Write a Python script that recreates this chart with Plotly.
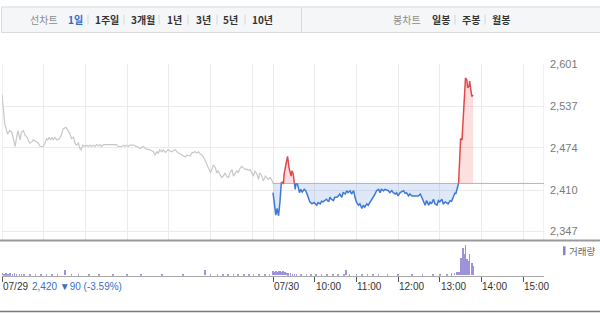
import plotly.graph_objects as go

W, H = 600, 313
BASE = 2420  # previous close (07/29)

# ---- 07/29 price (minutes after 09:00) ----
t29 = [0, 2, 4, 8, 11, 14, 16, 19, 21, 23,
       26, 28, 31, 33, 36, 38, 40, 43, 45, 50,
       52, 55, 59, 62, 64, 66, 68, 70, 72, 74,
       76, 79, 83, 86, 88, 92, 95, 98, 100, 103,
       105, 107, 110, 112, 114, 116, 119, 122, 124, 127,
       129, 131, 134, 136, 139, 141, 143, 146, 150, 155,
       160, 165, 167, 172, 175, 177, 179, 182, 184, 189,
       194, 199, 203, 208, 213, 218, 220, 223, 225, 227,
       230, 232, 235, 239, 244, 249, 254, 259, 264, 266,
       271, 273, 278, 280, 283, 285, 288, 292, 295, 297,
       300, 302, 304, 307, 309, 311, 314, 316, 319, 321,
       323, 326, 328, 331, 333, 335, 338, 340, 342, 345,
       347, 350, 352, 354, 357, 359, 362, 364, 367, 369,
       371, 374, 376, 379, 381, 383, 386, 388, 390]
p29 = [2555, 2530, 2510, 2495, 2500, 2498, 2488, 2476, 2490, 2500,
       2486, 2498, 2500, 2493, 2490, 2486, 2481, 2483, 2486, 2483,
       2481, 2476, 2476, 2481, 2488, 2486, 2490, 2486, 2490, 2486,
       2490, 2486, 2488, 2495, 2503, 2505, 2500, 2495, 2488, 2490,
       2481, 2478, 2481, 2473, 2471, 2478, 2476, 2478, 2476, 2478,
       2476, 2478, 2476, 2479, 2477, 2479, 2476, 2479, 2479, 2479,
       2479, 2479, 2476, 2476, 2478, 2476, 2478, 2476, 2478, 2478,
       2476, 2473, 2476, 2472, 2471, 2468, 2463, 2468, 2466, 2471,
       2468, 2471, 2467, 2471, 2468, 2471, 2466, 2463, 2460, 2463,
       2462, 2466, 2468, 2466, 2468, 2465, 2463, 2456, 2448, 2444,
       2436, 2441, 2448, 2444, 2436, 2439, 2434, 2429, 2432, 2436,
       2431, 2429, 2436, 2441, 2431, 2434, 2439, 2436, 2442, 2446,
       2444, 2441, 2442, 2440, 2441, 2436, 2431, 2439, 2434, 2426,
       2436, 2431, 2424, 2431, 2429, 2426, 2429, 2426, 2420]

# ---- 07/30 price (minutes after 09:00) ----
t30 = [0, 2, 4, 6, 8, 10, 12, 14, 15, 16,
       19, 21, 23, 24, 26, 27, 29, 30, 32, 33,
       35, 36, 38, 40, 42, 45, 47, 49, 51, 53,
       56, 59, 63, 65, 68, 70, 72, 75, 77, 80,
       82, 84, 87, 89, 92, 94, 96, 99, 101, 104,
       106, 108, 111, 113, 116, 118, 120, 123, 125, 128,
       130, 132, 135, 137, 140, 142, 144, 147, 149, 152,
       154, 156, 159, 161, 166, 168, 171, 173, 176, 178,
       180, 183, 188, 190, 192, 195, 197, 200, 204, 209,
       212, 214, 216, 219, 221, 224, 226, 228, 231, 233,
       236, 238, 240, 243, 245, 248, 252, 255, 257, 259,
       262, 263, 265, 267, 269, 270, 272, 274, 275, 277,
       279, 280, 282, 283, 285, 286, 288]
p30 = [2406, 2389, 2372, 2382, 2371, 2392, 2421, 2422, 2419, 2434,
       2451, 2461, 2444, 2439, 2431, 2439, 2435, 2426, 2411, 2419,
       2419, 2416, 2406, 2411, 2407, 2411, 2409, 2404, 2399, 2392,
       2389, 2391, 2387, 2391, 2389, 2393, 2392, 2394, 2396, 2392,
       2399, 2396, 2394, 2399, 2399, 2401, 2404, 2399, 2406, 2404,
       2409, 2406, 2409, 2404, 2409, 2399, 2392, 2387, 2389, 2382,
       2387, 2384, 2389, 2387, 2392, 2394, 2399, 2404, 2409, 2411,
       2406, 2411, 2409, 2411, 2409, 2406, 2409, 2406, 2404, 2406,
       2401, 2406, 2409, 2405, 2406, 2401, 2404, 2401, 2401, 2401,
       2404, 2399, 2393, 2387, 2394, 2387, 2392, 2389, 2396, 2389,
       2387, 2394, 2392, 2396, 2389, 2392, 2389, 2394, 2393, 2399,
       2406, 2404, 2411, 2419, 2456, 2488, 2486, 2525, 2560, 2580,
       2577, 2565, 2567, 2575, 2560, 2552, 2554]

# ---- volume (minutes from 07/29 09:00, 07/30 starts at 390) ----
vol_t = [0, 3, 6, 9, 12, 15, 18, 21, 25, 28, 32, 40, 48, 56, 64, 72, 80, 91, 100, 110,
         125, 140, 160, 180, 200, 230, 260, 292, 300, 310, 318, 325, 333, 340, 348, 355,
         362, 370, 378, 385,
         390, 392, 394, 396, 398, 400, 402, 404, 406, 408, 410, 412, 415, 418, 421, 424,
         430, 438, 445, 452, 460, 468, 476, 484, 492, 495, 500, 510, 518, 526, 534, 542,
         555, 570, 590, 605, 620, 630, 640, 647, 651, 655, 658, 661, 663, 665, 667, 669,
         671, 673, 676, 678]
vol_v = [5, 3, 4, 3, 4, 3, 4, 2, 3, 2, 2, 2, 2, 1, 2, 1, 2, 10, 1, 2,
         1, 1, 1, 1, 1, 1, 1, 10, 2, 2, 3, 2, 2, 2, 3, 2,
         2, 3, 2, 3,
         9, 7, 8, 6, 9, 8, 6, 8, 6, 7, 5, 4, 4, 3, 3, 3,
         2, 2, 2, 2, 2, 2, 2, 2, 2, 11, 2, 2, 2, 2, 2, 2,
         1, 1, 1, 1, 2, 2, 2, 4, 5, 6, 6, 36, 56, 44, 62, 34,
         30, 44, 26, 20]

y_ticks = [2347, 2410, 2474, 2537, 2601]
y_text = ["2,347", "2,410", "2,474", "2,537", "2,601"]
x_tick_vals = [0, 390, 450, 510, 570, 630, 690, 750]
x_tick_text = ["07/29", "07/30", "10:00", "11:00", "12:00", "13:00", "14:00", "15:00"]
grid_x = [60, 120, 180, 240, 300, 360, 390, 450, 510, 570, 630, 690, 750]

top_left = ["선차트", "1일", "1주일", "3개월", "1년", "3년", "5년", "10년"]
top_right = ["봉차트", "일봉", "주봉", "월봉"]
change_text = "2,420 ▼90 (-3.59%)"
legend_text = "거래량"

FONT = "Noto Sans CJK KR, Noto Sans, sans-serif"
NUMF = "Liberation Sans, Arial, sans-serif"


def fy(px):
    return 1 - px / H


def fx(px):
    return px / W


fig = go.Figure()

# 07/29 gray line
fig.add_trace(go.Scatter(x=t29, y=p29, mode="lines", line=dict(color="#c8c8c8", width=1.2),
                         hoverinfo="skip", showlegend=False))

# 07/30 with baseline crossings
xs, ys = [], []
for i in range(len(t30)):
    tx, pv = t30[i] + 390, p30[i]
    if i > 0:
        tp, pp = t30[i - 1] + 390, p30[i - 1]
        if (pp - BASE) * (pv - BASE) < 0:
            f = (BASE - pp) / (pv - pp)
            xs.append(tp + f * (tx - tp))
            ys.append(BASE)
    xs.append(tx)
    ys.append(pv)
up = [max(v, BASE) for v in ys]
dn = [min(v, BASE) for v in ys]
red = [v if v >= BASE else None for v in ys]
blue = [v if v <= BASE else None for v in ys]
basel = [BASE] * len(xs)

fig.add_trace(go.Scatter(x=xs, y=basel, mode="lines", line=dict(width=0), hoverinfo="skip", showlegend=False))
fig.add_trace(go.Scatter(x=xs, y=up, mode="lines", line=dict(width=0), fill="tonexty",
                         fillcolor="rgba(238,100,100,0.2)", hoverinfo="skip", showlegend=False))
fig.add_trace(go.Scatter(x=xs, y=basel, mode="lines", line=dict(width=0), hoverinfo="skip", showlegend=False))
fig.add_trace(go.Scatter(x=xs, y=dn, mode="lines", line=dict(width=0), fill="tonexty",
                         fillcolor="rgba(90,140,225,0.2)", hoverinfo="skip", showlegend=False))
fig.add_trace(go.Scatter(x=[390, 780], y=[BASE, BASE], mode="lines", line=dict(color="#b4b4b4", width=1),
                         hoverinfo="skip", showlegend=False))
fig.add_trace(go.Scatter(x=xs, y=red, mode="lines", line=dict(color="#e2494c", width=1.5),
                         connectgaps=False, hoverinfo="skip", showlegend=False))
fig.add_trace(go.Scatter(x=xs, y=blue, mode="lines", line=dict(color="#3f78d6", width=1.5),
                         connectgaps=False, hoverinfo="skip", showlegend=False))

# volume
fig.add_trace(go.Bar(x=vol_t, y=vol_v, width=1.0, marker=dict(color="#9d93d8", line=dict(width=0)),
                     xaxis="x2", yaxis="y2", hoverinfo="skip", showlegend=False))

dom = [fx(2), fx(544)]
fig.update_layout(
    width=W, height=H, margin=dict(l=0, r=0, t=0, b=0),
    paper_bgcolor="white", plot_bgcolor="white",
    font=dict(family=FONT, size=11, color="#333"),
    bargap=0,
    xaxis=dict(domain=dom, range=[0, 780], anchor="y", tickmode="array", tickvals=grid_x,
               showticklabels=False, ticks="", showgrid=True, gridcolor="#ebebeb", gridwidth=1,
               zeroline=False, showline=False, fixedrange=True),
    yaxis=dict(domain=[fy(239), fy(59)], range=[2333.6, 2601.3], anchor="x", side="right",
               tickmode="array", tickvals=y_ticks, ticktext=y_text, ticks="",
               showgrid=True, gridcolor="#ebebeb", gridwidth=1, zeroline=False, showline=False,
               tickfont=dict(family=NUMF, size=11, color="#7a7a7a"), ticklabelstandoff=5),
    xaxis2=dict(domain=dom, range=[0, 780], anchor="y2", tickmode="array", tickvals=x_tick_vals,
                ticktext=x_tick_text, ticks="outside", ticklen=5, tickcolor="#555", tickwidth=1,
                showline=True, linecolor="#a8a8a8", linewidth=1, showgrid=False, zeroline=False,
                showticklabels=False),
    yaxis2=dict(domain=[fy(275), fy(239)], range=[0, 72], anchor="x2", visible=False),
)

shapes = []
# top bar
shapes.append(dict(type="rect", xref="paper", yref="paper", x0=fx(1.5), x1=1.01, y0=fy(27), y1=fy(1),
                   fillcolor="#f5f6f8", line=dict(color="#dadada", width=1), layer="below"))
shapes.append(dict(type="line", xref="paper", yref="paper", x0=fx(301.5), x1=fx(301.5), y0=fy(1), y1=fy(27),
                   line=dict(color="#dadada", width=1)))
for sx in [88, 124, 159, 188, 217, 245, 455, 485]:
    shapes.append(dict(type="line", xref="paper", yref="paper", x0=fx(sx), x1=fx(sx), y0=fy(9), y1=fy(19),
                       line=dict(color="#d6d6d6", width=1)))
# price panel borders
for bx in [0, 780]:
    shapes.append(dict(type="line", xref="x", yref="y domain", x0=bx, x1=bx, y0=0, y1=1,
                       line=dict(color="#e2e2e2", width=1), layer="below"))
# separators
shapes.append(dict(type="line", xref="paper", yref="paper", x0=0, x1=1, y0=fy(239), y1=fy(239),
                   line=dict(color="#9a9a9a", width=2)))
shapes.append(dict(type="line", xref="paper", yref="paper", x0=0, x1=1, y0=fy(311.5), y1=fy(311.5),
                   line=dict(color="#7a7a7a", width=1.5)))
# legend swatch
shapes.append(dict(type="rect", xref="paper", yref="paper", x0=fx(563), x1=fx(565.5), y0=fy(254), y1=fy(245),
                   fillcolor="#8a7fcc", line=dict(width=0)))
fig.update_layout(shapes=shapes)

ann = []
left_centers = [43.5, 75.5, 107, 143, 174.5, 203.5, 230.5, 262]
for i, (txt, cx) in enumerate(zip(top_left, left_centers)):
    if i == 0:
        col = "#8c8c8c"
    elif i == 1:
        col = "#2d6acb"
    else:
        col = "#333333"
    label = txt if i == 0 else "<b>" + txt + "</b>"
    ann.append(dict(text=label, x=fx(cx), y=fy(14), xref="paper", yref="paper", xanchor="center",
                    yanchor="middle", showarrow=False, font=dict(family=FONT, size=10, color=col)))
right_centers = [407, 440.5, 470.5, 501]
for i, (txt, cx) in enumerate(zip(top_right, right_centers)):
    col = "#8c8c8c" if i == 0 else "#333333"
    label = txt if i == 0 else "<b>" + txt + "</b>"
    ann.append(dict(text=label, x=fx(cx), y=fy(14), xref="paper", yref="paper", xanchor="center",
                    yanchor="middle", showarrow=False, font=dict(family=FONT, size=10, color=col)))
# x tick labels placed to the right of each tick
for tv, tt in zip(x_tick_vals, x_tick_text):
    ann.append(dict(text=tt, x=tv, y=fy(286), xref="x2", yref="paper", xanchor="left", xshift=-1,
                    yanchor="middle", showarrow=False, font=dict(family=NUMF, size=10, color="#333")))
ann.append(dict(text=change_text, x=fx(30), y=fy(286), xref="paper", yref="paper", xanchor="left",
                yanchor="middle", showarrow=False, font=dict(family=NUMF, size=10, color="#3a6fcb")))
ann.append(dict(text=legend_text, x=fx(567), y=fy(250), xref="paper", yref="paper", xanchor="left",
                yanchor="middle", showarrow=False, font=dict(family=FONT, size=9.5, color="#666")))
fig.update_layout(annotations=ann)

fig.write_html("out.html")
